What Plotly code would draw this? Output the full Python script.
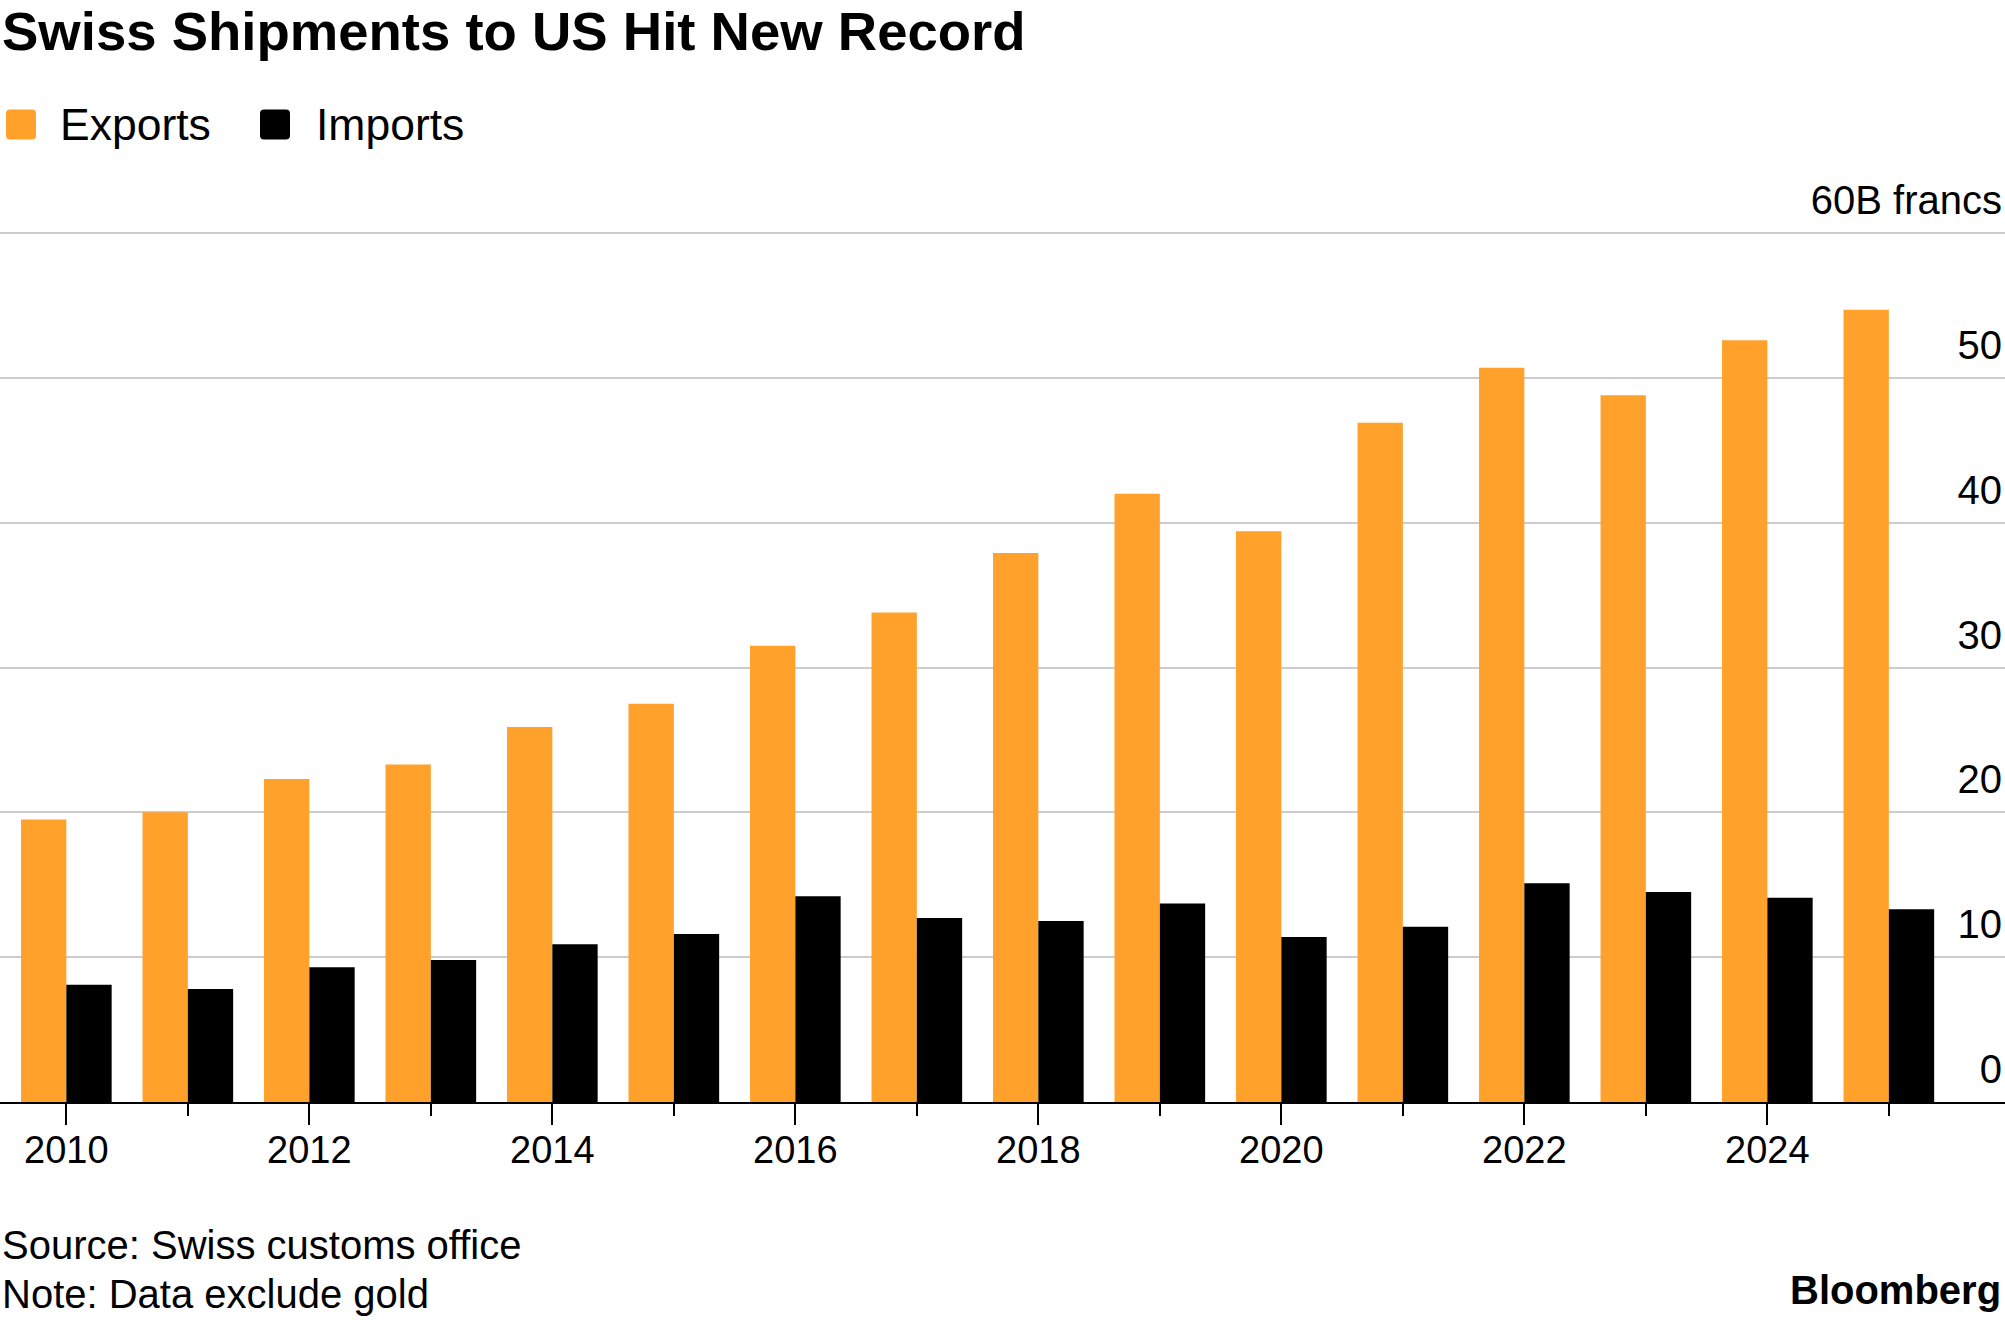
import plotly.graph_objects as go

years = list(range(2010, 2026))
exports = [19.5, 20.0, 22.3, 23.3, 25.9, 27.5, 31.5, 33.8, 37.9, 42.0, 39.4, 46.9, 50.7, 48.8, 52.6, 54.7]
imports = [8.1, 7.8, 9.3, 9.8, 10.9, 11.6, 14.2, 12.7, 12.5, 13.7, 11.4, 12.1, 15.1, 14.5, 14.1, 13.3]
y_ticks = [0, 10, 20, 30, 40, 50, 60]
y_ticktext = ["0", "10", "20", "30", "40", "50", "60B francs"]

ORANGE = "#FFA12B"
BLACK = "#000000"
FONT = "Liberation Sans, Arial, sans-serif"

W, H = 2005, 1320
T, B = 230, 218
PH = H - T - B
BASE = H - B
Y_TOP = 60 + (233 - T) * 60 / (BASE - 233)


def py(p):
    return (BASE - p) / PH


def px(p):
    return p / W


fig = go.Figure()
fig.add_trace(go.Bar(x=years, y=exports, name="Exports", marker=dict(color=ORANGE, line=dict(width=0)), showlegend=False))
fig.add_trace(go.Bar(x=years, y=imports, name="Imports", marker=dict(color=BLACK, line=dict(width=0)), showlegend=False))

r = 4
s = 15
sq = (f"M {-s+r},{-s} L {s-r},{-s} Q {s},{-s} {s},{-s+r} L {s},{s-r} Q {s},{s} {s-r},{s} "
      f"L {-s+r},{s} Q {-s},{s} {-s},{s-r} L {-s},{-s+r} Q {-s},{-s} {-s+r},{-s} Z")
shapes = []
for cx, col in [(21, ORANGE), (275, BLACK)]:
    shapes.append(dict(type="path", xref="paper", yref="paper", xsizemode="pixel", ysizemode="pixel",
                       xanchor=px(cx), yanchor=py(124.5), path=sq, fillcolor=col, line=dict(width=0)))

annotations = [
    dict(text="Swiss Shipments to US Hit New Record", x=0, y=py(31), xref="paper", yref="paper",
         xanchor="left", yanchor="middle", showarrow=False,
         font=dict(family=FONT, size=54.5, color="#000", weight="bold")),
    dict(text="Exports", x=px(58), y=py(124.5), xref="paper", yref="paper",
         xanchor="left", yanchor="middle", showarrow=False, font=dict(family=FONT, size=44.5, color="#000")),
    dict(text="Imports", x=px(314), y=py(124.5), xref="paper", yref="paper",
         xanchor="left", yanchor="middle", showarrow=False, font=dict(family=FONT, size=44.5, color="#000")),
    dict(text="Source: Swiss customs office", x=0, y=py(1245), xref="paper", yref="paper",
         xanchor="left", yanchor="middle", showarrow=False, font=dict(family=FONT, size=40, color="#000")),
    dict(text="Note: Data exclude gold", x=0, y=py(1294), xref="paper", yref="paper",
         xanchor="left", yanchor="middle", showarrow=False, font=dict(family=FONT, size=40, color="#000")),
    dict(text="Bloomberg", x=px(2003), y=py(1290), xref="paper", yref="paper",
         xanchor="right", yanchor="middle", showarrow=False,
         font=dict(family=FONT, size=40, color="#000", weight="bold")),
]

fig.update_layout(
    width=W, height=H,
    margin=dict(l=0, r=0, t=T, b=B, pad=0),
    paper_bgcolor="white", plot_bgcolor="white",
    barmode="group", bargap=0.254, bargroupgap=0,
    shapes=shapes, annotations=annotations,
    showlegend=False,
    font=dict(family=FONT, color="#000"),
)
fig.update_xaxes(
    range=[2009.454, 2025.956], tick0=2010, dtick=2, tickformat="d",
    showgrid=False, zeroline=False,
    showline=True, linecolor="#000", linewidth=2,
    ticks="outside", ticklen=21, tickwidth=2, tickcolor="#000",
    ticklabelstandoff=-8,
    tickfont=dict(family=FONT, size=38, color="#000"),
    minor=dict(dtick=1, tick0=2010, ticks="outside", ticklen=12, tickwidth=2, tickcolor="#000", showgrid=False),
)
fig.update_yaxes(
    range=[0, Y_TOP], tickvals=y_ticks, ticktext=y_ticktext,
    side="right", ticklabelposition="inside", ticks="",
    ticklabelshift=-33, ticklabeloverflow="allow",
    showgrid=True, gridcolor="#cccccc", gridwidth=1.5,
    zeroline=False, showline=False,
    tickfont=dict(family=FONT, size=40, color="#000"),
)

fig.write_html("out.html", config={"displayModeBar": False},
               post_script="document.body.style.margin='0px';document.body.style.overflow='hidden';")
